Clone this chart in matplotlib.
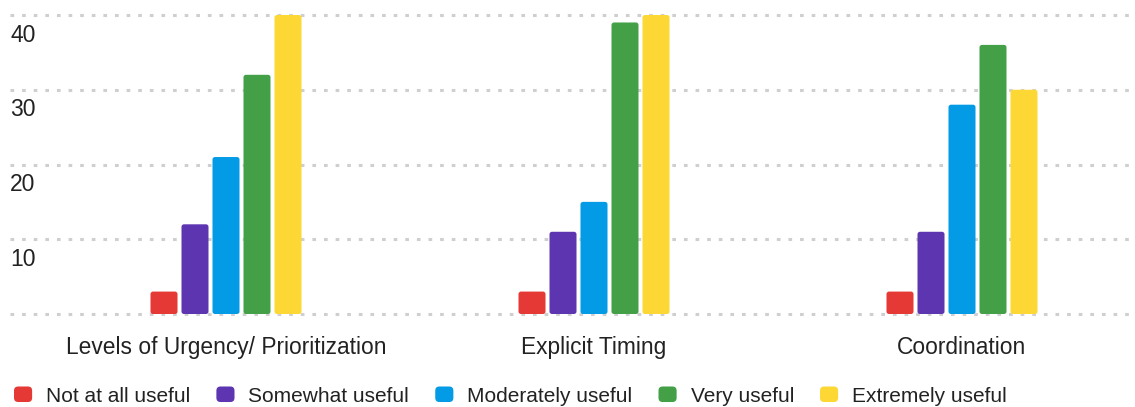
import matplotlib
matplotlib.use("Agg")
import matplotlib.pyplot as plt
import numpy as np
from matplotlib.patches import Patch, FancyBboxPatch
from matplotlib.legend_handler import HandlerPatch

categories = ["Levels of Urgency/ Prioritization", "Explicit Timing", "Coordination"]
series_names = ["Not at all useful", "Somewhat useful", "Moderately useful", "Very useful", "Extremely useful"]
not_at_all = [3, 3, 3]
somewhat = [12, 11, 11]
moderately = [21, 15, 28]
very = [32, 39, 36]
extremely = [40, 40, 30]
yticks = [10, 20, 30, 40]
colors = ["#E53935", "#5E35B1", "#039BE5", "#43A047", "#FDD835"]

plt.rcParams['font.family'] = ['Liberation Sans', 'DejaVu Sans']

fig = plt.figure(figsize=(11.35, 4.07), dpi=100)
ax = fig.add_axes([10/1135, 1-314/407, 1125/1135, (314-15)/407])

series = [not_at_all, somewhat, moderately, very, extremely]
x = np.arange(len(categories))
px_x = 1/368     # data units per pixel (x)
px_y = 1/7.46    # data units per pixel (y)
pitch = 31*px_x
width = 27*px_x
handles = []
for i, (vals, c, name) in enumerate(zip(series, colors, series_names)):
    bars = ax.bar(x + (i-2)*pitch, vals, width=width, color=c, zorder=3, linewidth=0)
    for r in bars:
        fb = FancyBboxPatch((r.get_x(), r.get_y()), r.get_width(), r.get_height(),
                            boxstyle="round,pad=0,rounding_size=%f" % (2.5*px_x),
                            mutation_aspect=px_y/px_x, fc=c, ec='none', zorder=3, clip_on=False)
        ax.add_patch(fb)
        r.set_visible(False)
    handles.append(Patch(facecolor=c, edgecolor='none', label=name))

ax.set_xlim(-(226-10)*px_x, 2 + (1135-962)*px_x)
ax.set_ylim(0, 40)

for v in [0] + yticks:
    ax.axhline(v, color='#cfcfcf', linewidth=2.2, linestyle=(0, (1.2, 2.6)), zorder=1, clip_on=False)

for s in ax.spines.values():
    s.set_visible(False)
ax.set_yticks([])
for v in yticks:
    ax.annotate(str(v), xy=(0, v), xycoords=('axes fraction', 'data'),
                xytext=(0, -14.5), textcoords='offset points',
                ha='left', va='center', fontsize=16.5, color='#222222')

ax.set_xticks(x)
ax.set_xticklabels(categories, fontsize=16.4, color='#222222')
ax.tick_params(axis='x', length=0, pad=16)


class RoundHandler(HandlerPatch):
    def create_artists(self, legend, orig_handle, xdescent, ydescent, width, height, fontsize, trans):
        p = FancyBboxPatch((-xdescent, -ydescent), width, height,
                           boxstyle="round,pad=0,rounding_size=3",
                           fc=orig_handle.get_facecolor(), ec='none', transform=trans)
        return [p]


fig.legend(handles=handles, loc='center left', bbox_to_anchor=(14/1135, 1-396/407), ncol=5,
           frameon=False, fontsize=15, handlelength=0.87, handleheight=0.77,
           handletextpad=0.67, columnspacing=1.25, borderpad=0, borderaxespad=0,
           labelcolor='#222222', handler_map={Patch: RoundHandler()})

fig.savefig("out.png", dpi=100, facecolor='white')
